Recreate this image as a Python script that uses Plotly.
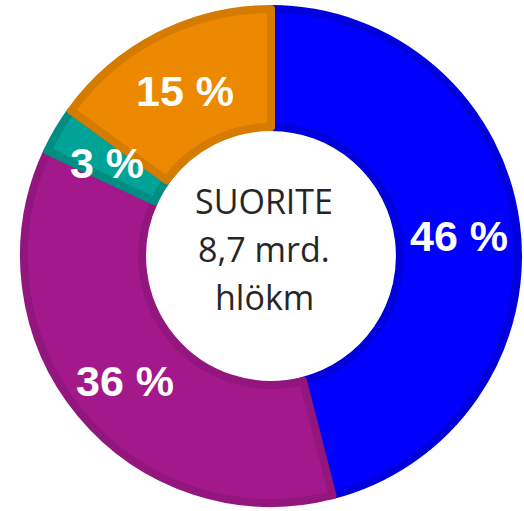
import math
import plotly.graph_objects as go

# ---- data ----
categories = ["A", "B", "C", "D"]
values = [46, 36, 3, 15]
label_texts = ["46 %", "36 %", "3 %", "15 %"]
center_lines = ["SUORITE", "8,7 mrd.", "hlökm"]

fill_colors = ["#0000FF", "#A3198B", "#00A396", "#EC8900"]
line_colors = ["#0000DD", "#93167E", "#008E82", "#D57B00"]

W, H = 524, 511
CX, CY = 271, 256          # pie centre in pixels (from top-left)
R = 247                    # pie radius in pixels
HOLE = 0.522
LW = 8

fig = go.Figure()
fig.add_trace(go.Pie(
    labels=categories,
    values=values,
    sort=False,
    direction="clockwise",
    rotation=0,
    hole=HOLE,
    textinfo="none",
    hoverinfo="label+percent",
    showlegend=False,
    marker=dict(colors=fill_colors, line=dict(color=line_colors, width=LW)),
    domain=dict(
        x=[(CX - R) / W, (CX + R) / W],
        y=[((H - CY) - R) / H, ((H - CY) + R) / H],
    ),
))

annotations = []
total = sum(values)
cum = 0.0
r_lab = R * (1 + HOLE) / 2 + 2
for v, t in zip(values, label_texts):
    mid = (cum + v / 2) / total
    cum += v
    th = mid * 2 * math.pi
    xp = CX + r_lab * math.sin(th)
    yp = CY - r_lab * math.cos(th)
    annotations.append(dict(
        x=xp / W, y=1 - yp / H, xref="paper", yref="paper",
        text=t, showarrow=False, xanchor="center", yanchor="middle",
        yshift=-4,
        font=dict(family="Liberation Sans, Arial, sans-serif", size=43,
                  color="white", weight="bold"),
    ))

line_gap = 48
for i, t in enumerate(center_lines):
    yp = 249 + (i - 1) * line_gap
    annotations.append(dict(
        x=264 / W, y=1 - yp / H, xref="paper", yref="paper",
        text=t, showarrow=False, xanchor="center", yanchor="middle",
        font=dict(family="Open Sans, sans-serif", size=34, color="#262626"),
    ))

fig.update_layout(
    width=W, height=H,
    margin=dict(l=0, r=0, t=0, b=0),
    paper_bgcolor="white",
    plot_bgcolor="white",
    annotations=annotations,
)

fig.write_html("out.html", config={"displayModeBar": False},
               post_script="document.body.style.margin='0';")
